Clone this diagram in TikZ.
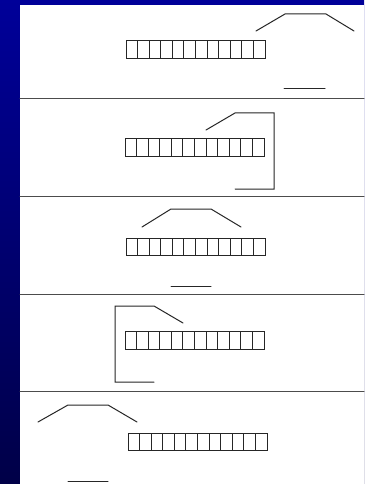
\documentclass[tikz,border=0pt]{standalone}
\usetikzlibrary{calc}
\usepackage{tkz-euclide}
\definecolor{SlideBlue}{rgb}{0,0,0.6}
\definecolor{SlideNavy}{rgb}{0,0,0.28}
\definecolor{LineClr}{gray}{0.15}

\begin{document}
\begin{tikzpicture}[x=1pt,y=-1pt]
\useasboundingbox (0,0) rectangle (364,484);
\tkzSetUpLine[line width=1pt,color=LineClr]

% background
\shade[top color=SlideBlue,bottom color=SlideNavy] (0,0) rectangle (364,484);
\fill[white] (20,5) rectangle (364,484);

% panel rules
\tkzDefPoints{20/98.5/L1,364/98.5/R1,20/196.5/L2,364/196.5/R2,
  20/294/L3,364/294/R3,20/391/L4,364/391/R4}
\tkzDrawSegments[color=black!70](L1,R1 L2,R2 L3,R3 L4,R4)

% the cell rows
\foreach \x/\y in {126/41,125/138.5,126/238,125/331.5,128/433}{
  \draw[line width=1pt,color=LineClr] (\x,\y) rectangle +(139,17.5);
  \foreach \k in {1,...,11}
    \draw[line width=1pt,color=LineClr] (\x+\k*11.583,\y) -- +(0,17.5);
}

% panel 1
\tkzDefPoints{256/31/A1,285/14/B1,326/14/C1,354/31/D1,284/89/E1,325/89/F1}
\tkzDrawPolySeg(A1,B1,C1,D1)
\tkzDrawSegment(E1,F1)

% panel 2
\tkzDefPoints{206/130/A2,235/113/B2,274/113/C2,274/189/D2,235/189/E2}
\tkzDrawPolySeg(A2,B2,C2,D2,E2)

% panel 3
\tkzDefPoints{142/227/A3,171/209/B3,211/209/C3,241/227/D3,171/286/E3,211/286/F3}
\tkzDrawPolySeg(A3,B3,C3,D3)
\tkzDrawSegment(E3,F3)

% panel 4
\tkzDefPoints{154/382/A4,115/382/B4,115/306/C4,154/306/D4,183/323/E4}
\tkzDrawPolySeg(A4,B4,C4,D4,E4)

% panel 5
\tkzDefPoints{38/422/A5,68/405/B5,108/405/C5,137/422/D5,68/481/E5,108/481/F5}
\tkzDrawPolySeg(A5,B5,C5,D5)
\tkzDrawSegment(E5,F5)

\end{tikzpicture}
\end{document}
